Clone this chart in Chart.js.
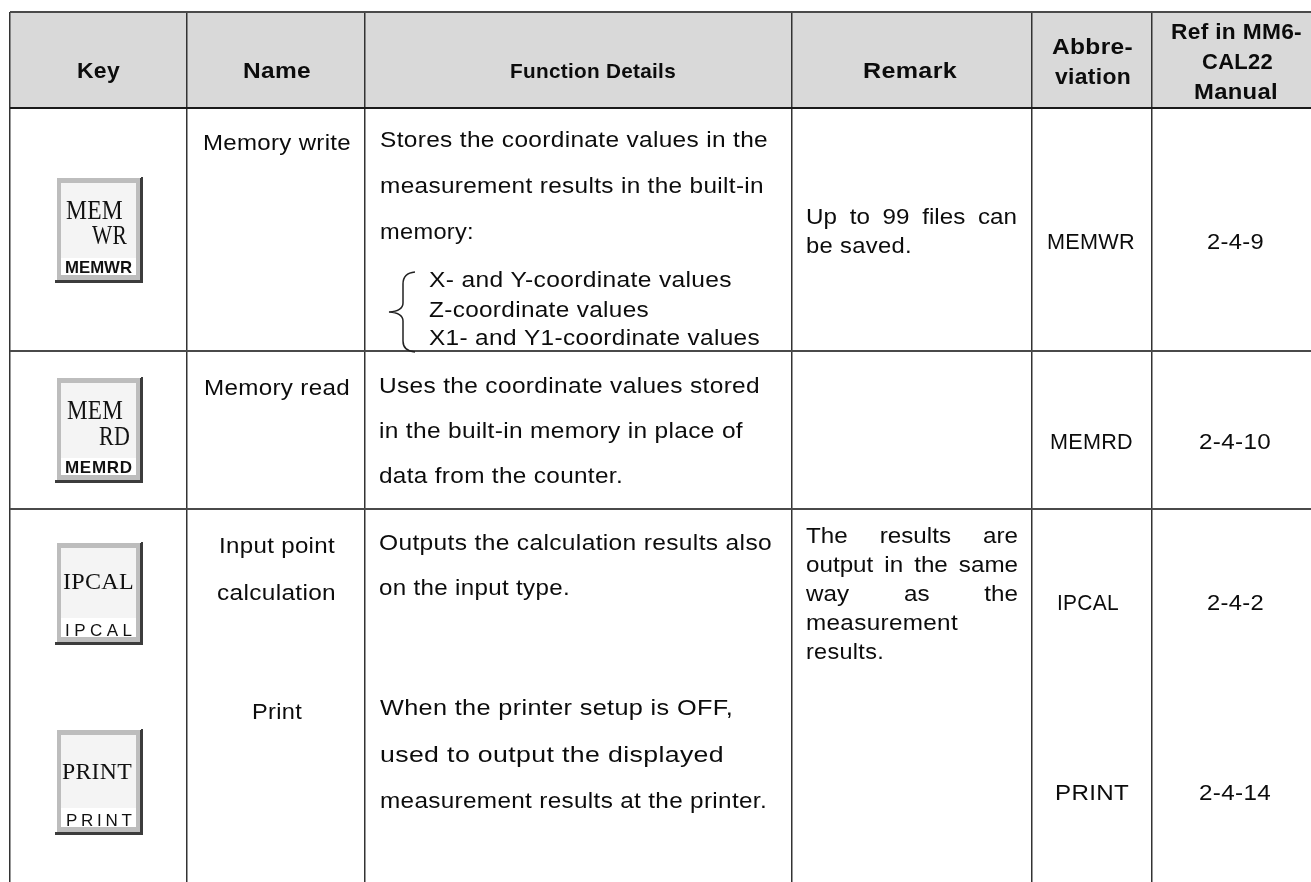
<!DOCTYPE html>
<html>
<head>
<meta charset="utf-8">
<title>Key table</title>
<script src="https://cdn.jsdelivr.net/npm/chart.js@4"></script>
<style>
html, body { margin: 0; padding: 0; background: #fff; }
canvas { display: block; }
</style>
</head>
<body>
<canvas id="tableChart" width="1311" height="882"></canvas>
<script>
// Table content
const headerLabels = ['Key', 'Name', 'Function Details', 'Remark', 'Abbre-', 'viation', 'Ref in MM6-', 'CAL22', 'Manual'];
const nameLabels = ['Memory write', 'Memory read', 'Input point', 'calculation', 'Print'];
const detailLabels = [
    'Stores the coordinate values in the',
    'measurement results in the built-in',
    'memory:',
    'X- and Y-coordinate values',
    'Z-coordinate values',
    'X1- and Y1-coordinate values',
    'Uses the coordinate values stored',
    'in the built-in memory in place of',
    'data from the counter.',
    'Outputs the calculation results also',
    'on the input type.',
    'When the printer setup is OFF,',
    'used to output the displayed',
    'measurement results at the printer.'
];
const remarkLabels = ['Up to 99 files can', 'be saved.', 'The results are', 'output in the same', 'way as the', 'measurement', 'results.'];
const abbreviations = ['MEMWR', 'MEMRD', 'IPCAL', 'PRINT'];
const manualRefs = ['2-4-9', '2-4-10', '2-4-2', '2-4-14'];
const keyFaces = [['MEM', 'WR'], ['MEM', 'RD'], ['IPCAL'], ['PRINT']];
const keyCaptions = ['MEMWR', 'MEMRD', 'IPCAL', 'PRINT'];

// Table rules (the axes run in image pixels)
const columnEdges = [10, 187, 365, 792, 1032, 1152];
const rowEdges = [12, 108, 351, 509];

// Where each text sits: [left, right, baseline]
const headerPlaces = [[77, 120, 78], [243, 311, 78], [510, 676, 78], [863, 957, 78], [1052, 1133, 54], [1055, 1131, 84], [1171, 1302, 39], [1202, 1273, 69], [1194, 1278, 99]];
const namePlaces = [[203, 351, 150], [204, 350, 395], [219, 335, 553], [217, 336, 600], [252, 302, 719]];
const detailPlaces = [
    [380, 768, 147], [380, 764, 193], [380, 474, 239],
    [429, 732, 287], [429, 649, 317], [429, 760, 345],
    [379, 760, 393], [379, 743, 438], [379, 623, 483],
    [379, 772, 550], [379, 570, 595],
    [380, 733, 715], [380, 724, 762], [380, 767, 808]
];
const remarkPlaces = [[806, 1017, 224], [806, 912, 253], [806, 1018, 543], [806, 1018, 572], [806, 1018, 601], [806, 958, 630], [806, 884, 659]];
const justifiedRemarks = [0, 2, 3, 4];
const abbrPlaces = [[1047, 1135, 249], [1050, 1133, 449], [1057, 1119, 610], [1055, 1129, 800]];
const refPlaces = [[1207, 1264, 249], [1199, 1271, 449], [1207, 1264, 610], [1199, 1271, 800]];

// Key buttons: top and bottom of the bevel, top of caption band
const keyBoxes = [[178, 280, 258], [378, 480, 458], [543, 642, 618], [730, 832, 808]];
const keyFacePlaces = [[[66, 123, 219], [92, 127, 244]], [[67, 123, 419], [99, 130, 445]], [[63, 134, 589]], [[62, 132, 779]]];
const keyCaptionPlaces = [[65, 132, 273], [65, 132, 473], [65, 132, 636], [66, 132, 826]];

const sansFont = '"Liberation Sans", Arial, sans-serif';

// Writes a line so it fills its measured width: stretched glyphs by default,
// word gaps when justified, letter gaps when spread
function putText(ctx, chart, text, place, font, mode) {
    const { x, y } = chart.scales;
    const left = x.getPixelForValue(place[0]);
    const width = x.getPixelForValue(place[1]) - left;
    const base = y.getPixelForValue(place[2]);
    ctx.save();
    ctx.font = font;
    ctx.textAlign = 'left';
    ctx.textBaseline = 'alphabetic';
    if (mode === 'spread') {
        const natural = ctx.measureText(text).width;
        ctx.letterSpacing = Math.max((width - natural) / Math.max(text.length - 1, 1), 0) + 'px';
        ctx.translate(left, base);
        ctx.scale(Math.min(width / natural, 1), 1);
    } else if (mode === 'justify') {
        const stretch = 1.1;
        const natural = ctx.measureText(text).width;
        ctx.wordSpacing = (width / stretch - natural) / (text.split(' ').length - 1) + 'px';
        ctx.translate(left, base);
        ctx.scale(stretch, 1);
    } else {
        ctx.letterSpacing = '0.3px';
        const natural = ctx.measureText(text).width;
        ctx.translate(left, base);
        ctx.scale(width / natural, 1);
    }
    ctx.fillText(text, 0, 0);
    ctx.restore();
}

const tableText = {
    id: 'tableText',
    afterDraw(chart) {
        const ctx = chart.ctx;
        ctx.save();
        ctx.fillStyle = '#0c0c0c';
        const plain = '22px ' + sansFont;
        headerLabels.forEach((t, i) => putText(ctx, chart, t, headerPlaces[i], (i === 2 ? 'bold 21px ' : 'bold 22px ') + sansFont));
        nameLabels.forEach((t, i) => putText(ctx, chart, t, namePlaces[i], plain));
        detailLabels.forEach((t, i) => putText(ctx, chart, t, detailPlaces[i], plain));
        remarkLabels.forEach((t, i) => putText(ctx, chart, t, remarkPlaces[i], plain, justifiedRemarks.includes(i) ? 'justify' : null));
        abbreviations.forEach((t, i) => putText(ctx, chart, t, abbrPlaces[i], plain));
        manualRefs.forEach((t, i) => putText(ctx, chart, t, refPlaces[i], plain));
        ctx.restore();
    }
};

const keyButtons = {
    id: 'keyButtons',
    afterDraw(chart) {
        const ctx = chart.ctx;
        const { x, y } = chart.scales;
        const px = v => x.getPixelForValue(v);
        const py = v => y.getPixelForValue(v);
        ctx.save();
        keyBoxes.forEach((box, i) => {
            const [top, bottom, band] = box;
            // shadow, bevel, face, caption band
            ctx.fillStyle = '#3c3c3c';
            ctx.fillRect(px(55), py(top - 1), px(143) - px(55), py(bottom + 3) - py(top - 1));
            ctx.fillStyle = '#bdbdbd';
            ctx.fillRect(px(57), py(top), px(140) - px(57), py(bottom) - py(top));
            ctx.fillStyle = '#f4f4f4';
            ctx.fillRect(px(61), py(top + 5), px(136) - px(61), py(bottom - 5) - py(top + 5));
            ctx.fillStyle = '#ffffff';
            ctx.fillRect(px(61), py(band), px(136) - px(61), py(bottom - 5) - py(band));
            // the shadow only shows right and below
            ctx.fillRect(px(55), py(top - 1), px(57) - px(55), py(bottom) - py(top - 1));
            ctx.fillRect(px(55), py(top - 1), px(141) - px(55), py(top) - py(top - 1));

            ctx.fillStyle = '#111111';
            const faceFont = i < 2 ? '27px "Liberation Serif", serif' : '24px "Liberation Serif", serif';
            keyFaces[i].forEach((t, j) => putText(ctx, chart, t, keyFacePlaces[i][j], faceFont));
            const captionFont = i < 2 ? 'bold 17px ' + sansFont : '17px ' + sansFont;
            putText(ctx, chart, keyCaptions[i], keyCaptionPlaces[i], captionFont, 'spread');
        });

        // Brace next to the coordinate list
        ctx.strokeStyle = '#222222';
        ctx.lineWidth = 1.5;
        ctx.beginPath();
        ctx.moveTo(px(415), py(272));
        ctx.quadraticCurveTo(px(403), py(273), px(403), py(284));
        ctx.lineTo(px(403), py(303));
        ctx.quadraticCurveTo(px(403), py(311), px(389), py(312));
        ctx.quadraticCurveTo(px(403), py(313), px(403), py(321));
        ctx.lineTo(px(403), py(341));
        ctx.quadraticCurveTo(px(403), py(351), px(415), py(352));
        ctx.stroke();
        ctx.restore();
    }
};

// Grey header band, grid lines go over it
const headerBand = [{ x: columnEdges[0], y: rowEdges[0] }, { x: 1311, y: rowEdges[0] }];

const config = {
    type: 'scatter',
    data: {
        datasets: [{
            data: headerBand,
            showLine: true,
            borderWidth: 0,
            pointRadius: 0,
            backgroundColor: '#d9d9d9',
            fill: { value: rowEdges[1] }
        }]
    },
    plugins: [keyButtons, tableText],
    options: {
        responsive: false,
        animation: false,
        layout: { padding: { left: 10, top: 12, right: 0, bottom: 0 } },
        plugins: { legend: { display: false }, tooltip: { enabled: false }, title: { display: false } },
        scales: {
            x: {
                type: 'linear',
                min: 10,
                max: 1311,
                afterBuildTicks: scale => { scale.ticks = columnEdges.map(value => ({ value })); },
                ticks: { display: false },
                border: { display: false },
                grid: { z: 1, drawTicks: false, color: '#333333', lineWidth: 1.5 }
            },
            y: {
                type: 'linear',
                reverse: true,
                min: 12,
                max: 882,
                afterBuildTicks: scale => { scale.ticks = rowEdges.map(value => ({ value })); },
                ticks: { display: false },
                border: { display: false },
                grid: {
                    z: 1,
                    drawTicks: false,
                    color: ctx => (ctx.index === 1 ? '#1a1a1a' : '#4a4a4a'),
                    lineWidth: 2
                }
            }
        }
    }
};

new Chart(document.getElementById('tableChart').getContext('2d'), config);
</script>
</body>
</html>
